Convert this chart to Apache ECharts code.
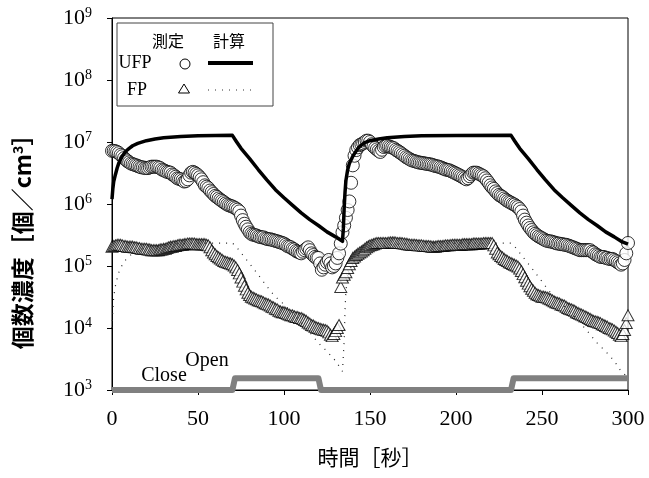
<!DOCTYPE html>
<html>
<head>
<meta charset="utf-8">
<script src="https://cdn.jsdelivr.net/npm/echarts@6/dist/echarts.min.js"></script>
<style>
html,body{margin:0;padding:0;background:#fff;}
#chart{width:649px;height:478px;}
</style>
</head>
<body>
<div id="chart"></div>
<script>
// ---- data (one reading per second) ----
const timeSec = [
0,1,2,3,4,5,6,7,8,9,10,11,12,13,14,15,16,17,18,19,
20,21,22,23,24,25,26,27,28,29,30,31,32,33,34,35,36,37,38,39,
40,41,42,43,44,45,46,47,48,49,50,51,52,53,54,55,56,57,58,59,
60,61,62,63,64,65,66,67,68,69,70,71,72,73,74,75,76,77,78,79,
80,81,82,83,84,85,86,87,88,89,90,91,92,93,94,95,96,97,98,99,
100,101,102,103,104,105,106,107,108,109,110,111,112,113,114,115,116,117,118,119,
120,121,122,123,124,125,126,127,128,129,130,131,132,133,134,135,136,137,138,139,
140,141,142,143,144,145,146,147,148,149,150,151,152,153,154,155,156,157,158,159,
160,161,162,163,164,165,166,167,168,169,170,171,172,173,174,175,176,177,178,179,
180,181,182,183,184,185,186,187,188,189,190,191,192,193,194,195,196,197,198,199,
200,201,202,203,204,205,206,207,208,209,210,211,212,213,214,215,216,217,218,219,
220,221,222,223,224,225,226,227,228,229,230,231,232,233,234,235,236,237,238,239,
240,241,242,243,244,245,246,247,248,249,250,251,252,253,254,255,256,257,258,259,
260,261,262,263,264,265,266,267,268,269,270,271,272,273,274,275,276,277,278,279,
280,281,282,283,284,285,286,287,288,289,290,291,292,293,294,295,296,297,298,299,
300];

const ufpMeasured = [
7.2e6,7.2e6,7.1e6,6.9e6,6.6e6,6.2e6,5.9e6,5.5e6,5.2e6,4.9e6,4.7e6,4.5e6,4.4e6,4.3e6,4.2e6,4.1e6,4.0e6,3.9e6,3.9e6,3.8e6,
3.8e6,3.8e6,3.9e6,4.0e6,4.0e6,4.0e6,4.0e6,3.9e6,3.8e6,3.6e6,3.5e6,3.4e6,3.3e6,3.25e6,3.2e6,3.0e6,2.9e6,2.75e6,2.6e6,2.55e6,
2.5e6,2.4e6,2.3e6,2.35e6,2.5e6,2.9e6,3.2e6,3.3e6,3.2e6,3.05e6,2.9e6,2.7e6,2.5e6,2.25e6,2.0e6,1.9e6,1.8e6,1.65e6,1.55e6,1.45e6,
1.35e6,1.3e6,1.23e6,1.17e6,1.12e6,1.07e6,1.02e6,9.8e5,9.5e5,9.3e5,9.1e5,8.8e5,8.5e5,8.1e5,7.6e5,6.5e5,5.5e5,4.8e5,4.3e5,3.9e5,
3.5e5,3.3e5,3.2e5,3.15e5,3.1e5,3.0e5,2.95e5,2.9e5,2.9e5,2.8e5,2.75e5,2.7e5,2.7e5,2.65e5,2.6e5,2.55e5,2.5e5,2.45e5,2.4e5,2.35e5,
2.3e5,2.2e5,2.1e5,2.05e5,2.0e5,1.9e5,1.85e5,1.75e5,1.7e5,1.65e5,1.6e5,1.7e5,1.8e5,1.9e5,2.0e5,1.8e5,1.6e5,1.5e5,1.4e5,1.35e5,
1.35e5,1.1e5,8.7e4,9.5e4,1.05e5,1.15e5,1.25e5,1.1e5,9.5e4,1.0e5,1.1e5,1.35e5,1.6e5,2.3e5,3.5e5,4.5e5,6.0e5,8.0e5,1.1e6,2.2e6,
4.2e6,6.0e6,7.4e6,8.2e6,8.9e6,9.2e6,9.5e6,1.0e7,1.05e7,1.05e7,1.0e7,9.2e6,8.5e6,8.0e6,7.6e6,7.2e6,6.9e6,7.5e6,8.3e6,8.6e6,
8.7e6,8.5e6,8.3e6,8.1e6,7.9e6,7.5e6,7.2e6,6.9e6,6.6e6,6.3e6,6.0e6,5.7e6,5.5e6,5.3e6,5.1e6,5.0e6,4.9e6,4.8e6,4.7e6,4.65e6,
4.6e6,4.55e6,4.5e6,4.45e6,4.4e6,4.35e6,4.3e6,4.2e6,4.1e6,4.05e6,4.0e6,3.9e6,3.8e6,3.7e6,3.6e6,3.55e6,3.5e6,3.4e6,3.3e6,3.2e6,
3.1e6,3.0e6,2.9e6,2.8e6,2.7e6,2.6e6,2.5e6,2.6e6,2.8e6,3.0e6,3.2e6,3.2e6,3.2e6,3.1e6,3.0e6,2.9e6,2.8e6,2.6e6,2.4e6,2.2e6,
2.0e6,1.85e6,1.75e6,1.6e6,1.5e6,1.4e6,1.35e6,1.3e6,1.23e6,1.17e6,1.12e6,1.08e6,1.05e6,1.0e6,9.8e5,9.3e5,8.9e5,8.3e5,7.6e5,6.5e5,
5.6e5,5.0e5,4.5e5,4.1e5,3.8e5,3.5e5,3.3e5,3.15e5,3.0e5,2.9e5,2.8e5,2.7e5,2.6e5,2.55e5,2.5e5,2.5e5,2.45e5,2.4e5,2.35e5,2.3e5,
2.3e5,2.25e5,2.25e5,2.2e5,2.2e5,2.15e5,2.1e5,2.05e5,2.0e5,1.95e5,1.9e5,1.85e5,1.8e5,1.8e5,1.8e5,1.8e5,1.8e5,1.8e5,1.8e5,1.7e5,
1.65e5,1.55e5,1.5e5,1.45e5,1.4e5,1.4e5,1.4e5,1.35e5,1.35e5,1.3e5,1.3e5,1.3e5,1.25e5,1.2e5,1.15e5,1.1e5,1.05e5,1.1e5,1.25e5,1.6e5,
2.35e5];

const fpMeasured = [
2.05e5,2.1e5,2.15e5,2.2e5,2.2e5,2.2e5,2.15e5,2.1e5,2.1e5,2.05e5,2.05e5,2.05e5,2.05e5,2.0e5,2.0e5,1.95e5,1.95e5,1.9e5,1.9e5,1.9e5,
1.9e5,1.85e5,1.85e5,1.8e5,1.8e5,1.8e5,1.8e5,1.8e5,1.85e5,1.85e5,1.9e5,1.9e5,1.95e5,2.0e5,2.05e5,2.05e5,2.1e5,2.1e5,2.15e5,2.2e5,
2.2e5,2.2e5,2.25e5,2.25e5,2.3e5,2.3e5,2.3e5,2.3e5,2.3e5,2.25e5,2.25e5,2.25e5,2.25e5,2.25e5,2.25e5,2.2e5,2.15e5,2.0e5,1.8e5,1.65e5,
1.55e5,1.45e5,1.38e5,1.32e5,1.26e5,1.2e5,1.17e5,1.15e5,1.12e5,1.1e5,1.07e5,1.02e5,9.5e4,8.6e4,7.6e4,6.5e4,5.6e4,4.8e4,4.2e4,3.7e4,
3.4e4,3.2e4,3.1e4,3.0e4,2.9e4,2.8e4,2.75e4,2.7e4,2.6e4,2.5e4,2.45e4,2.4e4,2.3e4,2.2e4,2.15e4,2.05e4,2.0e4,1.9e4,1.85e4,1.8e4,
1.8e4,1.75e4,1.7e4,1.65e4,1.6e4,1.6e4,1.55e4,1.5e4,1.5e4,1.45e4,1.45e4,1.4e4,1.35e4,1.3e4,1.23e4,1.18e4,1.12e4,1.1e4,1.05e4,1.02e4,
1.0e4,9.7e3,9.5e3,9.4e3,9.3e3,9.0e3,8.5e3,7.8e3,7.4e3,8.0e3,8.9e3,1.0e4,1.12e4,4.6e4,6.5e4,7.2e4,7.9e4,9.3e4,1.07e5,1.2e5,
1.35e5,1.42e5,1.5e5,1.58e5,1.65e5,1.72e5,1.8e5,1.9e5,2.0e5,2.08e5,2.15e5,2.2e5,2.25e5,2.3e5,2.35e5,2.35e5,2.35e5,2.35e5,2.35e5,2.35e5,
2.35e5,2.38e5,2.4e5,2.4e5,2.4e5,2.38e5,2.35e5,2.35e5,2.35e5,2.32e5,2.3e5,2.28e5,2.25e5,2.22e5,2.2e5,2.2e5,2.2e5,2.18e5,2.15e5,2.15e5,
2.15e5,2.12e5,2.1e5,2.1e5,2.1e5,2.08e5,2.05e5,2.05e5,2.05e5,2.08e5,2.1e5,2.1e5,2.1e5,2.12e5,2.15e5,2.15e5,2.15e5,2.18e5,2.2e5,2.2e5,
2.2e5,2.2e5,2.2e5,2.2e5,2.25e5,2.25e5,2.25e5,2.25e5,2.25e5,2.25e5,2.3e5,2.3e5,2.3e5,2.3e5,2.3e5,2.3e5,2.35e5,2.35e5,2.35e5,2.35e5,
2.35e5,2.35e5,2.15e5,1.9e5,1.65e5,1.55e5,1.45e5,1.38e5,1.3e5,1.25e5,1.2e5,1.15e5,1.12e5,1.08e5,1.05e5,1.02e5,9.8e4,9.1e4,8.3e4,7.4e4,
6.6e4,5.8e4,5.2e4,4.7e4,4.3e4,4.0e4,3.7e4,3.5e4,3.4e4,3.3e4,3.2e4,3.2e4,3.15e4,3.1e4,3.0e4,2.9e4,2.8e4,2.7e4,2.6e4,2.55e4,
2.5e4,2.4e4,2.35e4,2.3e4,2.2e4,2.1e4,2.05e4,2.0e4,1.95e4,1.9e4,1.8e4,1.75e4,1.7e4,1.65e4,1.6e4,1.55e4,1.5e4,1.45e4,1.4e4,1.35e4,
1.3e4,1.28e4,1.26e4,1.23e4,1.2e4,1.15e4,1.12e4,1.08e4,1.05e4,1.0e4,9.8e3,9.5e3,9.1e3,8.7e3,8.3e3,7.8e3,7.4e3,8.0e3,9.3e3,1.2e4,
1.6e4];

const ufpCalcTime  = [0,0.5,1,2,3,4,5,6,8,10,12,15,20,25,30,40,50,60,70,72,75,80,85,90,95,100,105,110,115,120,125,130,134,134.5,135,135.5,136,137,138,140,142,144,147,150,155,160,170,180,200,232,234,237,242,247,252,257,262,267,272,277,282,287,292,296,300];
const ufpCalcValue = [1.2e6,1.78e6,2.3e6,3.0e6,3.8e6,4.6e6,5.25e6,5.9e6,7.1e6,7.9e6,8.7e6,9.5e6,1.05e7,1.12e7,1.17e7,1.23e7,1.26e7,1.27e7,1.28e7,1.05e7,7.9e6,5.4e6,3.6e6,2.45e6,1.7e6,1.26e6,9.5e5,7.2e5,5.6e5,4.5e5,3.55e5,2.95e5,2.5e5,4.0e5,8.9e5,1.58e6,2.4e6,3.55e6,4.5e6,5.9e6,7.2e6,8.5e6,9.8e6,1.05e7,1.12e7,1.17e7,1.23e7,1.26e7,1.27e7,1.28e7,1.05e7,7.9e6,5.4e6,3.6e6,2.45e6,1.7e6,1.26e6,9.5e5,7.2e5,5.6e5,4.5e5,3.55e5,2.95e5,2.5e5,2.25e5];

const fpCalcTime  = [0,0.5,1,2,3,4,6,8,10,13,17,22,30,40,50,70,72,76,82,88,92,95,100,105,110,115,120,125,130,134,135,135.5,136,137,138,140,142,145,150,155,162,170,180,232,234,238,244,250,254,257,262,267,272,277,282,287,292,296,300];
const fpCalcValue = [1.0e4,2.0e4,3.2e4,4.8e4,6.3e4,7.9e4,1.05e5,1.26e5,1.45e5,1.66e5,1.86e5,2.04e5,2.19e5,2.29e5,2.34e5,2.34e5,2.09e5,1.51e5,9.3e4,5.6e4,4.0e4,3.2e4,2.4e4,1.74e4,1.23e4,8.5e3,5.75e3,4.2e3,2.95e3,2.0e3,6.3e3,2.0e4,4.0e4,6.3e4,8.5e4,1.12e5,1.35e5,1.58e5,1.86e5,2.04e5,2.19e5,2.29e5,2.34e5,2.34e5,2.09e5,1.51e5,9.3e4,5.6e4,4.0e4,3.2e4,2.4e4,1.74e4,1.23e4,8.5e3,5.75e3,4.2e3,2.95e3,2.0e3,1.6e3];

// window state indicator (Close = lower level, Open = upper level)
const ventTime  = [0,70,71.5,120,121.5,232,233.5,300];
const ventLevel = [1.0e3,1.0e3,1.55e3,1.55e3,1.0e3,1.0e3,1.55e3,1.55e3];

const xTicks = {min:0, max:300, interval:50};
const yTicks = {min:1e3, max:1e9};

// ---- build ----
const zip = (a,b) => a.map((v,i) => [v, b[i]]);
const serif = '"Liberation Serif","Times New Roman",serif';
const cjk = '"Noto Sans CJK JP","Noto Sans CJK SC",sans-serif';

const chart = echarts.init(document.getElementById('chart'), null, {renderer:'canvas'});
chart.setOption({
  animation:false,
  backgroundColor:'#fff',
  grid:{left:112,right:21,top:18,bottom:88,show:true,borderColor:'#000',borderWidth:1,backgroundColor:'transparent'},
  xAxis:{
    type:'value', min:xTicks.min, max:xTicks.max, interval:xTicks.interval,
    name:'時間［秒］', nameLocation:'middle', nameGap:57,
    nameTextStyle:{fontFamily:cjk, fontSize:21, color:'#000', fontWeight:'normal'},
    axisLine:{lineStyle:{color:'#000',width:1}},
    axisTick:{length:5,lineStyle:{color:'#000'}},
    axisLabel:{fontFamily:serif,fontSize:22,color:'#000',margin:18},
    splitLine:{show:false}
  },
  yAxis:{
    type:'log', logBase:10, min:yTicks.min, max:yTicks.max,
    name:'個数濃度［個／cm{sup|3}］', nameLocation:'middle', nameGap:78,
    nameTextStyle:{fontFamily:cjk, fontSize:23, color:'#000', fontWeight:'bold', padding:[0,64,0,0],
      rich:{sup:{fontFamily:cjk,fontSize:14,fontWeight:'bold',verticalAlign:'top',lineHeight:14}}},
    axisLine:{lineStyle:{color:'#000',width:1}},
    axisTick:{length:5,lineStyle:{color:'#000'}},
    axisLabel:{
      margin:20,
      formatter:function(v){ return '{b|10}{s|' + Math.round(Math.log10(v)) + '}'; },
      rich:{
        b:{fontFamily:serif,fontSize:22,color:'#000',lineHeight:24},
        s:{fontFamily:serif,fontSize:14,color:'#000',verticalAlign:'top',lineHeight:12}
      }
    },
    splitLine:{show:false}
  },
  series:[
    {type:'line', data:zip(ventTime,ventLevel), symbol:'none', clip:false, z:1,
     lineStyle:{color:'#808080',width:6,join:'round',cap:'butt'}},
    {type:'scatter', data:zip(timeSec,fpMeasured), symbol:'triangle', symbolSize:[12,11], z:2,
     itemStyle:{color:'#fff',borderColor:'#000',borderWidth:1}},
    {type:'scatter', data:zip(timeSec,ufpMeasured), symbol:'circle', symbolSize:13, z:3,
     itemStyle:{color:'#fff',borderColor:'#000',borderWidth:1}},
    {type:'line', data:zip(fpCalcTime,fpCalcValue), symbol:'none', z:4,
     lineStyle:{color:'#222',width:1.2,type:[1,6]}},
    {type:'line', data:zip(ufpCalcTime,ufpCalcValue), symbol:'none', z:5,
     lineStyle:{color:'#000',width:3.5,join:'round'}}
  ],
  graphic:[
    {type:'rect', shape:{x:117,y:23,width:156,height:83}, style:{fill:'#fff',stroke:'#444',lineWidth:1}, z:10},
    {type:'text', x:168, y:41, style:{text:'測定',font:'16px '+cjk,fill:'#000',align:'center',verticalAlign:'middle'}, z:11},
    {type:'text', x:229, y:41, style:{text:'計算',font:'16px '+cjk,fill:'#000',align:'center',verticalAlign:'middle'}, z:11},
    {type:'text', x:135, y:63, style:{text:'UFP',font:'18px '+serif,fill:'#000',align:'center',verticalAlign:'middle'}, z:11},
    {type:'text', x:137, y:90, style:{text:'FP',font:'18px '+serif,fill:'#000',align:'center',verticalAlign:'middle'}, z:11},
    {type:'circle', shape:{cx:185,cy:64,r:5}, style:{fill:'#fff',stroke:'#000',lineWidth:1}, z:11},
    {type:'line', shape:{x1:208,y1:63,x2:253,y2:63}, style:{stroke:'#000',lineWidth:4}, z:11},
    {type:'polygon', shape:{points:[[184,84],[189.5,93],[178.5,93]]}, style:{fill:'#fff',stroke:'#000',lineWidth:1}, z:11},
    {type:'line', shape:{x1:208,y1:90,x2:253,y2:90}, style:{stroke:'#333',lineWidth:1.2,lineDash:[1,6]}, z:11},
    {type:'text', x:164, y:376, style:{text:'Close',font:'20px '+serif,fill:'#000',align:'center',verticalAlign:'middle'}, z:11},
    {type:'text', x:207, y:361, style:{text:'Open',font:'20px '+serif,fill:'#000',align:'center',verticalAlign:'middle'}, z:11}
  ]
});
</script>
</body>
</html>
